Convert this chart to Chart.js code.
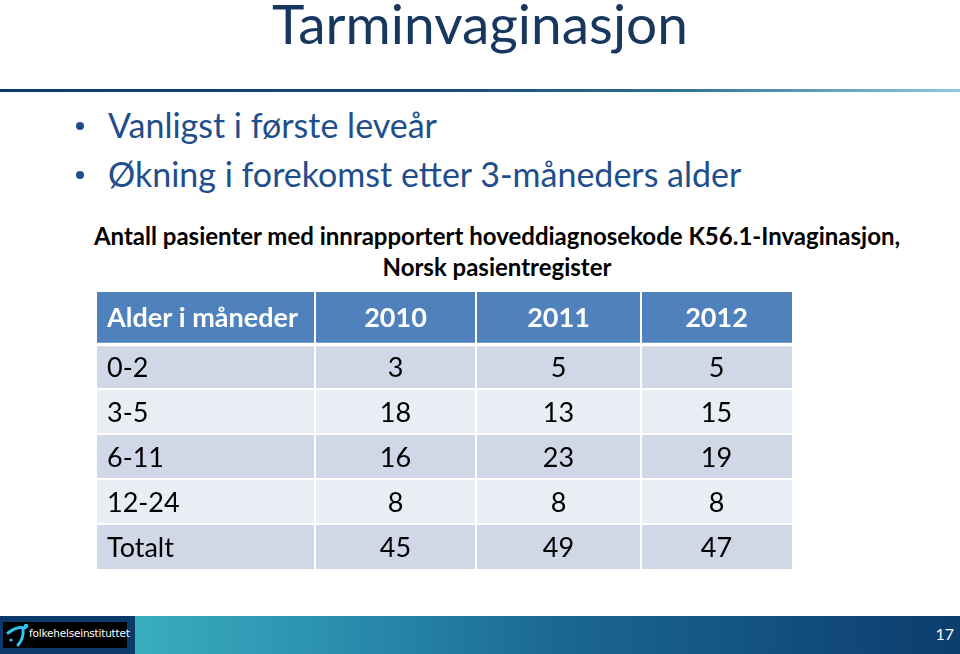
<!DOCTYPE html>
<html lang="no">
<head>
<meta charset="UTF-8">
<title>Tarminvaginasjon</title>
<script src="https://cdn.jsdelivr.net/npm/chart.js"></script>
<style>
  html, body { margin: 0; padding: 0; }
  body { width: 960px; height: 654px; position: relative; overflow: hidden; background: #fff; font-family: Lato, "Open Sans", sans-serif; }
  .title { position: absolute; left: 0; width: 960px; top: -10px; text-align: center; font-size: 55px; color: #17375E; }
  .rule { position: absolute; left: 0; top: 89px; width: 960px; height: 3px;
          background: linear-gradient(to right, #0E3A6B 0%, #16497A 45%, #2F6F96 70%, #8CCBD8 100%); }
  .bullets { position: absolute; left: 72px; top: 102px; margin: 0; padding: 0; list-style: none; color: #1F4E8C; font-size: 34px; }
  .bullets li { position: relative; padding-left: 36px; height: 49px; line-height: 46px; }
  .bullets li::before { content: ""; position: absolute; left: 4px; top: 20px; width: 8px; height: 8px; border-radius: 50%; background: #1F4E8C; }
  .caption { position: absolute; left: 0; width: 994px; top: 220px; text-align: center; font-weight: bold; font-size: 24px; line-height: 31px; color: #000; }
  #tableBox { position: absolute; left: 97px; top: 292px; width: 695px; height: 277px; }
  .footer { position: absolute; left: 0; top: 616px; width: 960px; height: 38px;
            background: linear-gradient(to right, #0B3A6A 0px, #0B3A6A 135px, #39AEBF 135px, #2A8FAE 35%, #1A6592 60%, #0C3D6D 100%); }
  .logo { position: absolute; left: 3px; top: 6px; width: 124px; height: 26px; background: #000; }
  .logo span { position: absolute; left: 26px; top: 5px; font-family: "DejaVu Sans", sans-serif; font-size: 10.5px; color: #fff; letter-spacing: -0.2px; }
  .pagenr { position: absolute; right: 6px; top: 8px; font-size: 16px; color: #fff; }
</style>
</head>
<body>
<div class="title">Tarminvaginasjon</div>
<div class="rule"></div>
<ul class="bullets">
  <li>Vanligst i første leveår</li>
  <li>Økning i forekomst etter 3-måneders alder</li>
</ul>
<div class="caption">Antall pasienter med innrapportert hoveddiagnosekode K56.1-Invaginasjon,<br>Norsk pasientregister</div>
<div id="tableBox"><canvas id="tableChart"></canvas></div>
<div class="footer">
  <div class="logo">
    <svg width="26" height="26" style="position:absolute;left:0;top:0">
      <path d="M5 11 Q14 4 22 6" stroke="#2CC6F0" stroke-width="3" fill="none" stroke-linecap="round"/>
      <path d="M20 8 Q21 16 15 23" stroke="#2CC6F0" stroke-width="3" fill="none" stroke-linecap="round"/>
      <circle cx="8" cy="18" r="1.6" fill="#2CC6F0"/>
      <circle cx="23" cy="4" r="2.2" fill="#2CC6F0"/>
    </svg>
    <span>folkehelseinstituttet</span>
  </div>
  <div class="pagenr">17</div>
</div>

<script>
// table data
var headerLabel = 'Alder i måneder';
var years = ['2010', '2011', '2012'];
var ageGroups = ['0-2', '3-5', '6-11', '12-24', 'Totalt'];
var cases2010 = [3, 18, 16, 8, 45];
var cases2011 = [5, 13, 23, 8, 49];
var cases2012 = [5, 15, 19, 8, 47];

// layout of the grid in table units (scale domain)
var colEdges = [0, 218, 379, 544, 695];
var rowEdges = [0, 52, 97, 142, 187, 232, 277];
var headerColor = '#4F81BD';
var bandDark = '#D0D8E8';
var bandLight = '#E9EDF4';
var cellFont = '27px Lato';
var textDrop = 2; // optical centring of text in cells

function colMid(c) { return (colEdges[c] + colEdges[c + 1]) / 2; }
function rowMid(r) { return (rowEdges[r] + rowEdges[r + 1]) / 2; }

function yearSeries(values, col) {
    return values.map(function (v, i) { return { x: colMid(col), y: rowMid(i + 1), v: v }; });
}

var tableGrid = {
    id: 'tableGrid',
    beforeDatasetsDraw: function (chart) {
        var ctx = chart.ctx, xs = chart.scales.x, ys = chart.scales.y;
        var x0 = xs.getPixelForValue(0), x1 = xs.getPixelForValue(colEdges[colEdges.length - 1]);
        ctx.save();
        for (var r = 0; r < rowEdges.length - 1; r++) {
            var top = ys.getPixelForValue(rowEdges[r]);
            var bot = ys.getPixelForValue(rowEdges[r + 1]);
            ctx.fillStyle = r === 0 ? headerColor : (r % 2 === 1 ? bandDark : bandLight);
            ctx.fillRect(x0, top, x1 - x0, bot - top);
        }
        ctx.strokeStyle = '#fff';
        for (var r2 = 1; r2 < rowEdges.length - 1; r2++) {
            ctx.lineWidth = r2 === 1 ? 3.5 : 2;
            var yy = ys.getPixelForValue(rowEdges[r2]) + (r2 === 1 ? 0.5 : 0);
            ctx.beginPath(); ctx.moveTo(x0, yy); ctx.lineTo(x1, yy); ctx.stroke();
        }
        ctx.lineWidth = 2;
        for (var c = 1; c < colEdges.length - 1; c++) {
            var xx = xs.getPixelForValue(colEdges[c]);
            ctx.beginPath(); ctx.moveTo(xx, ys.getPixelForValue(0)); ctx.lineTo(xx, ys.getPixelForValue(rowEdges[rowEdges.length - 1])); ctx.stroke();
        }
        // header texts
        ctx.textBaseline = 'middle';
        ctx.fillStyle = '#fff';
        ctx.font = 'bold ' + cellFont;
        ctx.textAlign = 'left';
        ctx.fillText(headerLabel, xs.getPixelForValue(10), ys.getPixelForValue(rowMid(0)));
        ctx.textAlign = 'center';
        years.forEach(function (y, i) {
            ctx.fillText(y, xs.getPixelForValue(colMid(i + 1)), ys.getPixelForValue(rowMid(0)));
        });
        // first column labels
        ctx.fillStyle = '#000';
        ctx.font = cellFont;
        ctx.textAlign = 'left';
        ageGroups.forEach(function (g, i) {
            ctx.fillText(g, xs.getPixelForValue(10), ys.getPixelForValue(rowMid(i + 1)) + textDrop);
        });
        ctx.restore();
    },
    afterDatasetsDraw: function (chart) {
        var ctx = chart.ctx;
        ctx.save();
        ctx.fillStyle = '#000';
        ctx.font = cellFont;
        ctx.textAlign = 'center';
        ctx.textBaseline = 'middle';
        chart.data.datasets.forEach(function (ds, di) {
            chart.getDatasetMeta(di).data.forEach(function (pt, i) {
                ctx.fillText(String(ds.data[i].v), pt.x, pt.y + textDrop);
            });
        });
        ctx.restore();
    }
};

new Chart(document.getElementById('tableChart'), {
    type: 'scatter',
    data: {
        datasets: [
            { label: years[0], data: yearSeries(cases2010, 1) },
            { label: years[1], data: yearSeries(cases2011, 2) },
            { label: years[2], data: yearSeries(cases2012, 3) }
        ]
    },
    options: {
        responsive: true,
        maintainAspectRatio: false,
        animation: false,
        layout: { padding: 0 },
        elements: { point: { radius: 0, hoverRadius: 0 } },
        plugins: { legend: { display: false }, tooltip: { enabled: false } },
        events: [],
        scales: {
            x: { type: 'linear', min: 0, max: 695, display: false },
            y: { type: 'linear', min: 0, max: 277, reverse: true, display: false }
        }
    },
    plugins: [tableGrid]
});
</script>
</body>
</html>
